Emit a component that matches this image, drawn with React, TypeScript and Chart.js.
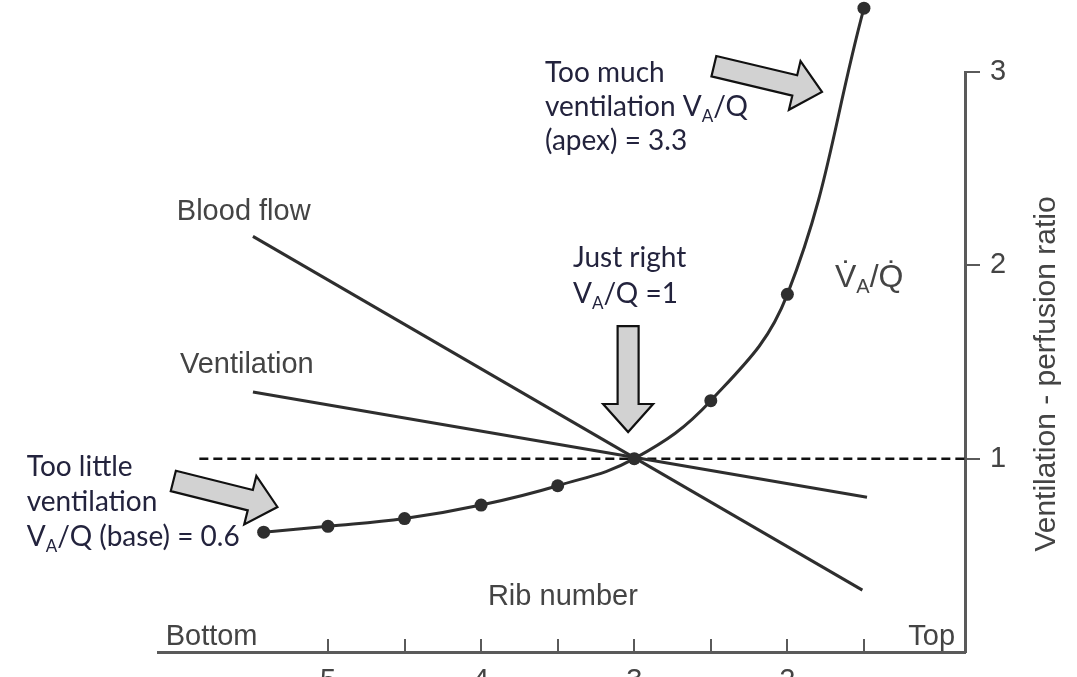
import React, { useEffect, useRef } from "react";
import { Chart, registerables } from "chart.js";

Chart.register(...registerables);

// ---- data ----
const vqRibs = [5.42, 5, 4.5, 4, 3.5, 3, 2.5, 2, 1.5];
const vqRatio = [0.62, 0.65, 0.69, 0.76, 0.86, 1.0, 1.3, 1.85, 3.33];
const bloodFlowRibs = [5.49, 1.51];
const bloodFlowValues = [2.15, 0.32];
const ventilationRibs = [5.49, 1.48];
const ventilationValues = [1.345, 0.8];
const refLineRibs = [5.84, 0.84];
const refLineValues = [1, 1];
const xTickValues = [5, 4.5, 4, 3.5, 3, 2.5, 2, 1.5];
const yTickValues = [1, 2, 3];

// ---- styling ----
const W = 1077;
const H = 700;
const LINE = "#2e2e2e";
const AXIS = "#5a5a5a";
const LABEL_COLOR = "#444444";
const LABEL_FAMILY = '"Liberation Sans", Arial, sans-serif';
const ANNOT_FAMILY = 'Lato, "Open Sans", sans-serif';
const ANNOT_COLOR = "#23233d";
const POINT_R = 6.5;

type Run = { t: string; sub?: boolean };

// annotation anchors in data coordinates (rib, ratio); baseline of first line
const notes = [
  { x: 3.583, y: 2.948, lh: 34, lines: [[{ t: "Too much" }], [{ t: "ventilation V" }, { t: "A", sub: true }, { t: "/Q" }], [{ t: "(apex) = 3.3" }]] },
  { x: 6.967, y: 0.91, lh: 35, lines: [[{ t: "Too little" }], [{ t: "ventilation" }], [{ t: "V" }, { t: "A", sub: true }, { t: "/Q (base) = 0.6" }]] },
  { x: 3.40, y: 1.991, lh: 36, lines: [[{ t: "Just right" }], [{ t: "V" }, { t: "A", sub: true }, { t: "/Q =1" }]] },
];

const chartLabels = [
  { x: 5.987, y: 2.235, size: 29, align: "left", runs: [{ t: "Blood flow" }] },
  { x: 5.967, y: 1.443, size: 29, align: "left", runs: [{ t: "Ventilation" }] },
  { x: 3.466, y: 0.243, size: 29, align: "center", runs: [{ t: "Rib number" }] },
  { x: 6.06, y: 0.036, size: 29, align: "left", runs: [{ t: "Bottom" }] },
  { x: 0.905, y: 0.036, size: 29, align: "right", runs: [{ t: "Top" }] },
  { x: 1.689, y: 1.888, size: 32, align: "left", runs: [{ t: "V\u0307" }, { t: "A", sub: true }, { t: "/Q\u0307" }] },
];

// arrows: tail -> tip in data coordinates
const arrows = [
  { x0: 6.01, y0: 0.885, x1: 5.33, y1: 0.75 },
  { x0: 2.48, y0: 3.03, x1: 1.774, y1: 2.897 },
  { x0: 3.04, y0: 1.686, x1: 3.04, y1: 1.138 },
];

function drawRuns(ctx: CanvasRenderingContext2D, runs: Run[], x: number, y: number, size: number, family: string, align: string) {
  const fontFor = (r: Run) => `${r.sub ? Math.round(size * 0.62) : size}px ${family}`;
  let total = 0;
  runs.forEach((r) => {
    ctx.font = fontFor(r);
    total += ctx.measureText(r.t).width;
  });
  let cx = x;
  if (align === "center") cx -= total / 2;
  if (align === "right") cx -= total;
  ctx.textAlign = "left";
  ctx.textBaseline = "alphabetic";
  runs.forEach((r) => {
    ctx.font = fontFor(r);
    ctx.fillText(r.t, cx, y + (r.sub ? size * 0.2 : 0));
    cx += ctx.measureText(r.t).width;
  });
}

function drawArrow(ctx: CanvasRenderingContext2D, x0: number, y0: number, x1: number, y1: number) {
  const shaft = 21, headW = 50, headL = 28;
  const dx = x1 - x0, dy = y1 - y0;
  const len = Math.hypot(dx, dy);
  const ux = dx / len, uy = dy / len;
  const nx = -uy, ny = ux;
  const neckX = x1 - ux * headL, neckY = y1 - uy * headL;
  const pts = [
    [x0 + nx * shaft / 2, y0 + ny * shaft / 2],
    [neckX + nx * shaft / 2, neckY + ny * shaft / 2],
    [neckX + nx * headW / 2, neckY + ny * headW / 2],
    [x1, y1],
    [neckX - nx * headW / 2, neckY - ny * headW / 2],
    [neckX - nx * shaft / 2, neckY - ny * shaft / 2],
    [x0 - nx * shaft / 2, y0 - ny * shaft / 2],
  ];
  ctx.beginPath();
  pts.forEach((p, i) => (i ? ctx.lineTo(p[0], p[1]) : ctx.moveTo(p[0], p[1])));
  ctx.closePath();
  ctx.fillStyle = "#d2d2d2";
  ctx.fill();
  ctx.lineJoin = "miter";
  ctx.lineWidth = 2.2;
  ctx.strokeStyle = "#111111";
  ctx.stroke();
}

const overlayPlugin = {
  id: "overlay",
  afterDatasetsDraw(chart: any) {
    // points that lie outside the chart area (the apex value) are skipped by Chart.js; draw them at the library's positions
    const { ctx, chartArea } = chart;
    const meta = chart.getDatasetMeta(0);
    ctx.save();
    ctx.fillStyle = LINE;
    meta.data.forEach((pt: any) => {
      if (pt.y < chartArea.top || pt.y > chartArea.bottom) {
        ctx.beginPath();
        ctx.arc(pt.x, pt.y, POINT_R, 0, Math.PI * 2);
        ctx.fill();
      }
    });
    ctx.restore();
  },
  afterDraw(chart: any) {
    const { ctx, chartArea } = chart;
    const xs = chart.scales.x;
    const ys = chart.scales.y;
    const px = (v: number) => xs.getPixelForValue(v);
    const py = (v: number) => ys.getPixelForValue(v);
    ctx.save();
    // inward tick marks on rib axis
    ctx.strokeStyle = AXIS;
    ctx.lineWidth = 2;
    xTickValues.forEach((v) => {
      const X = Math.round(px(v));
      ctx.beginPath();
      ctx.moveTo(X, chartArea.bottom);
      ctx.lineTo(X, chartArea.bottom - 13);
      ctx.stroke();
    });
    // arrows
    arrows.forEach((a) => drawArrow(ctx, px(a.x0), py(a.y0), px(a.x1), py(a.y1)));
    // chart labels
    ctx.fillStyle = LABEL_COLOR;
    chartLabels.forEach((l) => drawRuns(ctx, l.runs, px(l.x), py(l.y), l.size, LABEL_FAMILY, l.align));
    // annotations
    ctx.fillStyle = ANNOT_COLOR;
    notes.forEach((n) => {
      n.lines.forEach((runs, i) => drawRuns(ctx, runs as Run[], px(n.x), py(n.y) + i * n.lh, 28, ANNOT_FAMILY, "left"));
    });
    // y-axis title (reads bottom to top)
    ctx.save();
    ctx.translate(chartArea.right + 82, (chartArea.top + chartArea.bottom) / 2 + 12);
    ctx.rotate(-Math.PI / 2);
    ctx.fillStyle = LABEL_COLOR;
    ctx.font = `30px ${LABEL_FAMILY}`;
    ctx.textAlign = "center";
    ctx.textBaseline = "middle";
    ctx.fillText("Ventilation - perfusion ratio", 0, 0);
    ctx.restore();
    ctx.restore();
  },
};

export default function App() {
  const ref = useRef<HTMLCanvasElement>(null);
  useEffect(() => {
    if (!ref.current) return;
    const toPts = (xs: number[], ys: number[]) => xs.map((x, i) => ({ x, y: ys[i] }));
    const chart = new Chart(ref.current, {
      type: "line",
      data: {
        datasets: [
          {
            label: "VA/Q",
            data: toPts(vqRibs, vqRatio),
            borderColor: LINE,
            borderWidth: 3,
            pointRadius: POINT_R,
            pointBackgroundColor: LINE,
            pointBorderWidth: 0,
            tension: 0.4,
            clip: false,
          },
          {
            label: "Blood flow",
            data: toPts(bloodFlowRibs, bloodFlowValues),
            borderColor: LINE,
            borderWidth: 3,
            pointRadius: 0,
            clip: false,
          },
          {
            label: "Ventilation",
            data: toPts(ventilationRibs, ventilationValues),
            borderColor: LINE,
            borderWidth: 3,
            pointRadius: 0,
            clip: false,
          },
          {
            label: "Ratio 1",
            data: toPts(refLineRibs, refLineValues),
            borderColor: "#111111",
            borderWidth: 2.5,
            borderDash: [9, 5],
            pointRadius: 0,
          },
        ],
      },
      options: {
        responsive: false,
        animation: false,
        layout: { padding: { left: 158, top: 72, right: 0, bottom: 0 } },
        plugins: { legend: { display: false }, tooltip: { enabled: false } },
        scales: {
          x: {
            type: "linear",
            reverse: true,
            min: 0.84,
            max: 6.11,
            position: "bottom",
            afterBuildTicks: (s: any) => {
              s.ticks = xTickValues.map((v) => ({ value: v }));
            },
            afterFit: (s: any) => {
              s.height = 48;
            },
            grid: { display: true, drawOnChartArea: false, drawTicks: false, tickLength: 0 },
            border: { display: true, color: AXIS, width: 3 },
            ticks: {
              padding: 12,
              autoSkip: false,
              maxRotation: 0,
              color: LABEL_COLOR,
              font: { family: LABEL_FAMILY, size: 29 },
              callback: (v: any) => (Number.isInteger(Number(v)) ? String(v) : ""),
            },
          },
          y: {
            type: "linear",
            position: "right",
            min: 0,
            max: 3,
            afterBuildTicks: (s: any) => {
              s.ticks = yTickValues.map((v) => ({ value: v }));
            },
            afterFit: (s: any) => {
              s.width = 112;
            },
            grid: { display: true, drawOnChartArea: false, drawTicks: true, tickLength: 15, color: AXIS, lineWidth: 2 },
            border: { display: true, color: AXIS, width: 3 },
            ticks: {
              padding: 10,
              color: LABEL_COLOR,
              font: { family: LABEL_FAMILY, size: 29 },
              callback: (v: any) => String(v),
            },
          },
        },
      },
      plugins: [overlayPlugin],
    });
    return () => chart.destroy();
  }, []);
  return (
    <div style={{ position: "fixed", left: 0, top: 0, width: W, height: H, background: "#fff" }}>
      <canvas ref={ref} width={W} height={H} style={{ display: "block" }} />
    </div>
  );
}
